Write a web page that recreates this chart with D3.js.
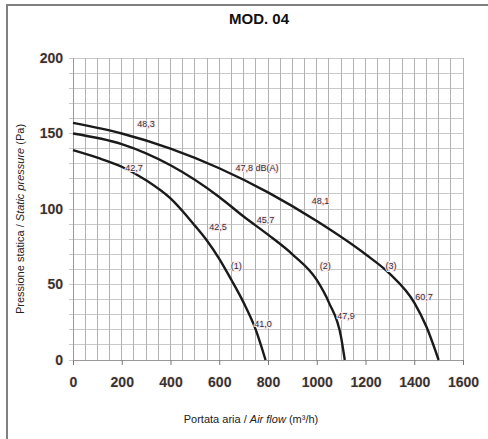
<!DOCTYPE html>
<html><head><meta charset="utf-8">
<script src="https://cdn.jsdelivr.net/npm/d3@7"></script>
<style>
html,body{margin:0;padding:0;background:#fff;}
svg{display:block;font-family:"Liberation Sans",Arial,sans-serif;}
</style></head>
<body><svg id="c" width="488" height="439"></svg>
<script>
const title = "MOD. 04";
const flowTicks = [0,200,400,600,800,1000,1200,1400,1600];
const pressureTicks = [0,50,100,150,200];
const curve1Flow = [0,100,200,300,400,500,550,600,650,700,750,790];
const curve1Pressure = [139,134,128,119,107,89,79,67,53,38,20,0];
const curve2Flow = [0,200,400,600,700,800,900,1000,1050,1100,1115];
const curve2Pressure = [150,143,129,108,95,83,70,53,38,15,0];
const curve3Flow = [0,200,400,600,800,1000,1200,1300,1400,1450,1500];
const curve3Pressure = [157,150,140,127,111,92,70,57,38,22,0];
const noteText = ["48,3","47,8 dB(A)","48,1","(3)","60,7","42,7","45,7","(2)","47,9","42,5","(1)","41,0"];
const noteFlow = [300,755,1015,1305,1440,250,790,1035,1120,595,670,780];
const notePressure = [156,127,105,62,42,127,93,62,29,88,62,24];

const svg = d3.select("#c");
const x = d3.scaleLinear().domain([0,1600]).range([73,463]);
const y = d3.scaleLinear().domain([0,200]).range([360,58]);

// frame
svg.append("rect").attr("x",7).attr("y",5).attr("width",500).attr("height",460)
  .attr("fill","none").attr("stroke","#808080").attr("stroke-width",2);

// title
svg.append("text").attr("x",259).attr("y",24).attr("text-anchor","middle")
  .attr("font-size",15).attr("font-weight","bold").attr("fill","#111").text(title);

// grid
const g = svg.append("g");
g.selectAll("line.h").data(d3.range(0,201,10)).join("line")
  .attr("x1",x(0)-4).attr("x2",x(1600)).attr("y1",d=>y(d)).attr("y2",d=>y(d))
  .attr("stroke","#c9c9c9").attr("stroke-width",1).attr("shape-rendering","crispEdges");
g.selectAll("line.v").data(d3.range(0,1601,50)).join("line")
  .attr("y1",y(200)).attr("y2",y(0)).attr("x1",d=>x(d)).attr("x2",d=>x(d))
  .attr("stroke","#b2b2b2").attr("stroke-width",1).attr("shape-rendering","crispEdges");

// axes
const xAxis = d3.axisBottom(x).tickValues(flowTicks).tickFormat(d3.format("d")).tickSize(5).tickPadding(12);
const ax = svg.append("g").attr("transform",`translate(0,${y(0)})`).call(xAxis);
ax.select(".domain").attr("stroke","#999");
ax.selectAll(".tick line").attr("stroke","#777");
ax.selectAll(".tick text").attr("font-size",14).attr("font-weight","bold").attr("fill","#333")
  .attr("font-family","Liberation Sans,Arial,sans-serif")
  .attr("stroke","#fdf1ec").attr("stroke-width",2).attr("paint-order","stroke");

const yAxis = d3.axisLeft(y).tickValues(pressureTicks).tickFormat(d3.format("d")).tickSize(0).tickPadding(10);
const ay = svg.append("g").attr("transform",`translate(${x(0)},0)`).call(yAxis);
ay.select(".domain").attr("stroke","#999");
ay.selectAll(".tick text").attr("font-size",14).attr("font-weight","bold").attr("fill","#333")
  .attr("font-family","Liberation Sans,Arial,sans-serif")
  .attr("stroke","#fdf1ec").attr("stroke-width",2).attr("paint-order","stroke");

// curves
const line = d3.line().x(d=>x(d[0])).y(d=>y(d[1])).curve(d3.curveMonotoneX);
[[curve1Flow,curve1Pressure],[curve2Flow,curve2Pressure],[curve3Flow,curve3Pressure]].forEach(([f,p])=>{
  svg.append("path").datum(f.map((v,i)=>[v,p[i]])).attr("d",line)
    .attr("fill","none").attr("stroke","#1a1a1a").attr("stroke-width",2.4);
});

// annotations
svg.selectAll("text.note").data(noteText).join("text")
  .attr("x",(d,i)=>x(noteFlow[i])).attr("y",(d,i)=>y(notePressure[i])+3)
  .attr("text-anchor","middle").attr("font-size",9).attr("fill","#2f3240")
  .attr("stroke","#fbe9e9").attr("stroke-width",2).attr("paint-order","stroke")
  .text(d=>d);

// axis titles
const xt = svg.append("text").attr("x",251).attr("y",423).attr("text-anchor","middle")
  .attr("font-size",11).attr("fill","#222");
xt.append("tspan").text("Portata aria / ");
xt.append("tspan").attr("font-style","italic").text("Air flow");
xt.append("tspan").text(" (m³/h)");

const yt = svg.append("text").attr("transform","translate(24,219) rotate(-90)").attr("text-anchor","middle")
  .attr("font-size",11).attr("fill","#222");
yt.append("tspan").text("Pressione statica / ");
yt.append("tspan").attr("font-style","italic").text("Static pressure");
yt.append("tspan").text(" (Pa)");
</script></body></html>
